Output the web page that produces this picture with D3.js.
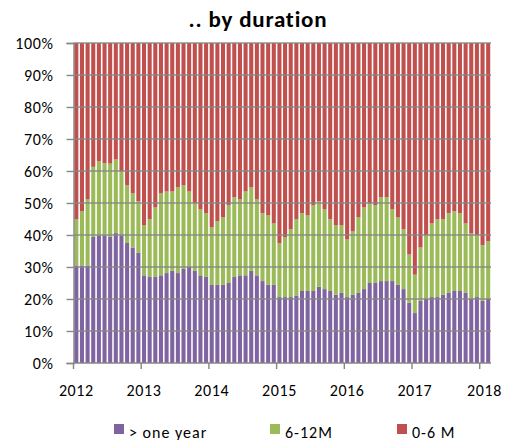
<!DOCTYPE html>
<html>
<head>
<meta charset="utf-8">
<script src="https://cdn.jsdelivr.net/npm/d3@7"></script>
<style>
  html, body { margin: 0; padding: 0; background: #fff; }
  svg { display: block; font-family: Carlito, "Open Sans", Lato, sans-serif; }
</style>
</head>
<body>
<svg id="chart" width="506" height="440"></svg>
<script>
// ---- data (monthly, Jan 2012 .. Feb 2018), percent shares ----
const monthCount = 74;
const months = d3.timeMonth.range(new Date(2012, 0, 1), new Date(2012, monthCount, 1))
  .map(d3.timeFormat("%Y-%m"));

const overOneYear = [30.5,30.5,30.5,39.4,39.9,39.9,39.4,40.6,39.9,37.5,36.1,34.4,
  27.4,26.9,26.9,27.4,28.1,28.8,28.1,29.4,30.0,28.8,27.4,26.9,
  24.4,24.4,24.4,25.0,26.9,27.4,27.4,28.8,27.4,25.6,24.4,24.4,
  20.6,20.6,20.6,21.1,22.5,22.5,22.5,23.8,23.1,22.5,21.3,21.9,
  20.6,21.3,21.9,23.1,25.0,25.0,25.6,25.6,25.6,24.4,23.1,18.8,
  15.6,19.4,20.0,20.6,20.6,21.3,21.9,22.5,22.5,21.9,20.0,20.6,
  19.4,20.0];
const sixTo12M = [14.4,16.9,20.6,21.9,23.1,22.5,22.9,23.0,20.0,18.0,16.9,16.1,
  15.6,18.0,21.7,25.6,25.5,24.8,26.8,26.1,23.6,21.1,20.6,19.9,
  18.0,19.9,21.1,24.3,24.9,23.7,26.2,26.1,23.7,21.2,21.7,19.2,
  16.9,18.7,21.2,23.8,24.3,23.6,26.8,26.7,24.9,22.4,21.7,21.1,
  18.0,19.8,23.6,25.5,24.9,24.3,26.2,26.2,22.4,21.1,18.7,15.1,
  12.0,16.7,19.9,23.0,24.3,23.6,24.9,24.9,24.3,21.7,20.5,19.3,
  17.4,18.0];
const zeroTo6M = [55.1,52.6,48.9,38.7,37.0,37.6,37.7,36.4,40.1,44.5,47.0,49.5,
  57.0,55.1,51.4,47.0,46.4,46.4,45.1,44.5,46.4,50.1,52.0,53.2,
  57.6,55.7,54.5,50.7,48.2,48.9,46.4,45.1,48.9,53.2,53.9,56.4,
  62.5,60.7,58.2,55.1,53.2,53.9,50.7,49.5,52.0,55.1,57.0,57.0,
  61.4,58.9,54.5,51.4,50.1,50.7,48.2,48.2,52.0,54.5,58.2,66.1,
  72.4,63.9,60.1,56.4,55.1,55.1,53.2,52.6,53.2,56.4,59.5,60.1,
  63.2,62.0];

const seriesNames = ["> one year", "6-12M", "0-6 M"];
const seriesColors = ["#8064A2", "#9BBB59", "#C0504D"];
const yearLabels = ["2012","2013","2014","2015","2016","2017","2018"];
const yTicks = [0,10,20,30,40,50,60,70,80,90,100];
const chartTitle = ".. by duration";

// ---- build table ----
const keys = ["a","b","c"];
const table = months.map((m, i) => {
  const tot = overOneYear[i] + sixTo12M[i] + zeroTo6M[i];
  return { month: m, a: overOneYear[i] / tot * 100, b: sixTo12M[i] / tot * 100, c: zeroTo6M[i] / tot * 100 };
});
const stacked = d3.stack().keys(keys)(table);

// ---- layout ----
const svg = d3.select("#chart");
const pL = 73.5, pR = 491, pT = 43, pB = 363;
const FONT = "Carlito, 'Open Sans', Lato, sans-serif";

const x = d3.scaleBand().domain(months).range([pL, pR]).paddingInner(0.28).paddingOuter(0.14);
const y = d3.scaleLinear().domain([0, 100]).range([pB, pT]);

// title
svg.append("text")
  .attr("x", 258).attr("y", 27)
  .attr("text-anchor", "middle")
  .attr("font-size", 23).attr("font-weight", "bold").attr("letter-spacing", 0.8).attr("fill", "#000")
  .text(chartTitle);

// bars
svg.append("g").selectAll("g")
  .data(stacked).join("g")
  .attr("fill", (d, i) => seriesColors[i])
  .selectAll("rect")
  .data(d => d).join("rect")
  .attr("x", d => x(d.data.month))
  .attr("width", x.bandwidth())
  .attr("y", d => y(d[1]))
  .attr("height", d => y(d[0]) - y(d[1]));

// gridlines (drawn over bars as in reference)
svg.append("g").selectAll("line")
  .data(yTicks.filter(v => v > 0)).join("line")
  .attr("x1", pL).attr("x2", pR)
  .attr("y1", d => y(d)).attr("y2", d => y(d))
  .attr("stroke", "#868686").attr("stroke-width", 1.4).attr("stroke-opacity", 0.9);

// y axis
const yAxis = d3.axisLeft(y).tickValues(yTicks).tickFormat(d => d + "%").tickSize(7).tickPadding(13);
const gy = svg.append("g").attr("transform", `translate(${pL},0)`).call(yAxis);
gy.select(".domain").attr("stroke", "#868686").attr("stroke-width", 1.4);
gy.selectAll(".tick line").attr("stroke", "#868686").attr("stroke-width", 1.4);
gy.selectAll(".tick text").attr("font-size", 16).attr("letter-spacing", 0.6)
  .attr("fill", "#000").attr("font-family", FONT);

// x axis: tick marks at the start of each year, labels under them
const yearStarts = yearLabels.map(yl => yl + "-01");
const halfGap = (x.step() - x.bandwidth()) / 2;
const gx = svg.append("g");
gx.append("line").attr("x1", pL).attr("x2", pR).attr("y1", pB).attr("y2", pB)
  .attr("stroke", "#868686").attr("stroke-width", 1.4);
gx.selectAll("line.tk").data(yearStarts).join("line").attr("class", "tk")
  .attr("x1", d => x(d) - halfGap)
  .attr("x2", d => x(d) - halfGap)
  .attr("y1", pB).attr("y2", pB + 6)
  .attr("stroke", "#868686").attr("stroke-width", 1.4);
gx.selectAll("text").data(yearStarts).join("text")
  .attr("x", (d, i) => x(d) + x.bandwidth() / 2 + (i === yearStarts.length - 1 ? 2 : 0))
  .attr("y", 396)
  .attr("text-anchor", "middle")
  .attr("font-size", 16).attr("letter-spacing", 0.6).attr("fill", "#000")
  .text((d, i) => yearLabels[i]);

// legend
const legX = [114, 270, 397];
const lg = svg.append("g").selectAll("g").data(seriesNames).join("g")
  .attr("transform", (d, i) => `translate(${legX[i]},424)`);
lg.append("rect").attr("width", 10).attr("height", 10).attr("fill", (d, i) => seriesColors[i]);
lg.append("text").attr("x", 15).attr("y", 13.5).attr("font-size", 16).attr("letter-spacing", 1)
  .attr("fill", "#000")
  .text(d => d);
</script>
</body>
</html>
